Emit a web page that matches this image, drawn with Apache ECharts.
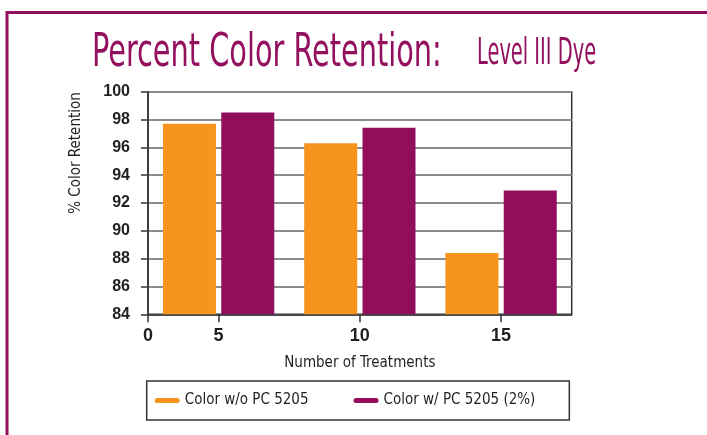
<!DOCTYPE html>
<html>
<head>
<meta charset="utf-8">
<script src="https://cdn.jsdelivr.net/npm/echarts@6/dist/echarts.min.js"></script>
<style>
html,body{margin:0;padding:0;background:#fff;}
#c{width:707px;height:435px;}
</style>
</head>
<body>
<div id="c"></div>
<script>
// ---- data ----
const categories = ['5', '10', '15'];
const seriesNames = ['Color w/o PC 5205', 'Color w/ PC 5205 (2%)'];
const withoutPC = [97.7, 96.3, 88.4];
const withPC = [98.5, 97.4, 92.9];
const yMin = 84, yMax = 100, yStep = 2;
const xOriginLabel = '0';
const titleMain = 'Percent Color Retention:';
const titleSub = 'Level III Dye';
const yName = '% Color Retention';
const xName = 'Number of Treatments';

const FONT = '"Liberation Sans Narrow", "DejaVu Sans Condensed", sans-serif';
const NUMFONT = '"Liberation Sans", Arial, sans-serif';
const PURPLE = '#930D5D';
const ORANGE = '#F7941E';
const TEXT = '#231F20';
const AXIS = '#333333';

const chart = echarts.init(document.getElementById('c'), null, {renderer: 'canvas'});
chart.setOption({
  backgroundColor: '#ffffff',
  animation: false,
  textStyle: {fontFamily: FONT},
  grid: {
    left: 148, right: 135.3, top: 91.7, bottom: 120.7,
    containLabel: false, outerBoundsMode: 'none',
    show: true, borderColor: AXIS, borderWidth: 1.5, backgroundColor: 'transparent'
  },
  graphic: [
    {type: 'polyline', silent: true, z: 100,
     shape: {points: [[7, 440], [7, 12.5], [710, 12.5]]},
     style: {stroke: '#93105E', lineWidth: 3, fill: null}},
    {type: 'text', x: 92, y: 77, scaleX: 0.82, scaleY: 1.2,
     style: {text: titleMain, font: '39px ' + FONT, fill: '#93105E', align: 'left', verticalAlign: 'bottom'}},
    {type: 'text', x: 477, y: 73, scaleX: 0.83, scaleY: 1.42,
     style: {text: titleSub, font: '26px ' + FONT, fill: '#93105E', align: 'left', verticalAlign: 'bottom'}}
  ],
  legend: {
    show: true,
    left: 146.7, top: 381,
    orient: 'horizontal',
    data: seriesNames,
    borderColor: AXIS, borderWidth: 1.5, borderRadius: 0,
    padding: [12, 34, 12, 8],
    itemGap: 45,
    itemWidth: 25, itemHeight: 5,
    icon: 'path://M2.5,0 L22.5,0 A2.5,2.5 0 0 1 22.5,5 L2.5,5 A2.5,2.5 0 0 1 2.5,0 Z',
    textStyle: {fontFamily: FONT, fontSize: 15, color: TEXT}
  },
  xAxis: [
    {
      type: 'category', data: categories, position: 'bottom',
      boundaryGap: true,
      name: xName, nameLocation: 'middle', nameGap: 41,
      nameTextStyle: {fontFamily: FONT, fontSize: 15, color: TEXT},
      axisLine: {show: true, lineStyle: {color: AXIS, width: 1.5}},
      axisTick: {show: true, alignWithLabel: true, length: 8, lineStyle: {color: AXIS, width: 1.5}},
      axisLabel: {fontFamily: NUMFONT, fontSize: 18, fontWeight: 'bold', color: TEXT, margin: 13},
      splitLine: {show: false}
    },
    {
      type: 'value', position: 'bottom', min: 0, max: 1,
      axisLine: {show: false},
      axisTick: {show: true, customValues: [0], length: 8, lineStyle: {color: AXIS, width: 1.5}},
      axisLabel: {show: true, customValues: [0], formatter: function(v){ return v === 0 ? xOriginLabel : ''; },
                  fontFamily: NUMFONT, fontSize: 18, fontWeight: 'bold', color: TEXT, margin: 13},
      splitLine: {show: false}
    }
  ],
  yAxis: {
    type: 'value', min: yMin, max: yMax, interval: yStep,
    name: yName, nameLocation: 'middle', nameGap: 64, nameRotate: 90,
    nameTextStyle: {fontFamily: FONT, fontSize: 15, color: TEXT, padding: [0, 0, 0, 100]},
    axisLine: {show: true, lineStyle: {color: AXIS, width: 1.5}},
    axisTick: {show: true, inside: false, length: 7, lineStyle: {color: AXIS, width: 1.5}},
    axisLabel: {fontFamily: NUMFONT, fontSize: 16, fontWeight: 'bold', color: TEXT, margin: 18},
    splitLine: {show: true, lineStyle: {color: '#8C8C8C', width: 2}}
  },
  series: [
    {name: seriesNames[0], type: 'bar', data: withoutPC, barWidth: 53, barGap: '10%',
     itemStyle: {color: ORANGE}},
    {name: seriesNames[1], type: 'bar', data: withPC, barWidth: 53, barGap: '10%',
     itemStyle: {color: PURPLE}}
  ]
});
</script>
</body>
</html>
